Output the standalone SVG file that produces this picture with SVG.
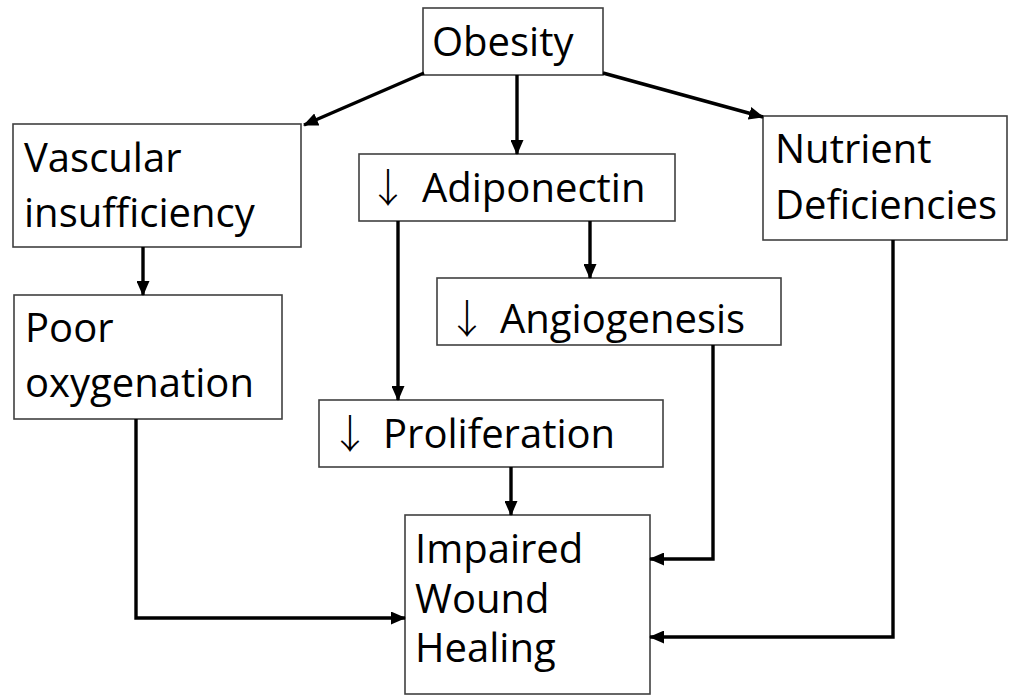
<svg xmlns="http://www.w3.org/2000/svg" width="1010" height="696" viewBox="0 0 1010 696">
<style>
.box{fill:#fff;stroke:#404040;stroke-width:1.6}
.t{font-family:"Open Sans","DejaVu Sans",sans-serif;font-size:40px;fill:#000}
.ar{font-family:"Noto Sans CJK SC","DejaVu Sans",sans-serif;font-size:40px;font-weight:300}
.c{fill:none;stroke:#000;stroke-width:3.4;marker-end:url(#ah)}
</style>
<defs>
<marker id="ah" markerUnits="userSpaceOnUse" markerWidth="15" markerHeight="13" refX="14" refY="6.5" orient="auto">
<path d="M0,0 L15,6.5 L0,13 Z" fill="#000"/>
</marker>
</defs>
<rect width="1010" height="696" fill="#fff"/>
<g id="n-obesity"><rect class="box" x="423" y="8" width="180" height="67"/><text class="t" x="432" y="56">Obesity</text></g>
<g id="n-vascular"><rect class="box" x="13" y="124" width="288" height="123"/><text class="t" x="24" y="172">Vascular</text><text class="t" x="24" y="227">insufficiency</text></g>
<g id="n-adiponectin"><rect class="box" x="359" y="154" width="316" height="67"/><text class="t" y="202"><tspan class="ar" x="368">↓</tspan><tspan x="422">Adiponectin</tspan></text></g>
<g id="n-nutrient"><rect class="box" x="763" y="116" width="244" height="124"/><text class="t" x="775" y="163">Nutrient</text><text class="t" x="775" y="219">Deficiencies</text></g>
<g id="n-poor"><rect class="box" x="14" y="295" width="268" height="124"/><text class="t" x="25" y="342">Poor</text><text class="t" x="25" y="397">oxygenation</text></g>
<g id="n-angio"><rect class="box" x="437" y="278" width="344" height="67"/><text class="t" y="333"><tspan class="ar" x="447">↓</tspan><tspan x="500">Angiogenesis</tspan></text></g>
<g id="n-prolif"><rect class="box" x="319" y="400" width="344" height="67"/><text class="t" y="448"><tspan class="ar" x="330">↓</tspan><tspan x="383">Proliferation</tspan></text></g>
<g id="n-impaired"><rect class="box" x="405" y="515" width="245" height="179"/><text class="t" x="415" y="563">Impaired</text><text class="t" x="415" y="613">Wound</text><text class="t" x="415" y="662">Healing</text></g>
<g id="connectors">
<path class="c" d="M424,73 L304,125"/>
<path class="c" d="M517,75 L517,154"/>
<path class="c" d="M603,73 L763,117"/>
<path class="c" d="M143,247 L143,295"/>
<path class="c" d="M590,221 L590,278"/>
<path class="c" d="M398,221 L398,400"/>
<path class="c" d="M713,345 L713,559 L650,559"/>
<path class="c" d="M511,467 L511,515"/>
<path class="c" d="M136,419 L136,618 L405,618"/>
<path class="c" d="M893,240 L893,637 L650,637"/>
</g>
</svg>
